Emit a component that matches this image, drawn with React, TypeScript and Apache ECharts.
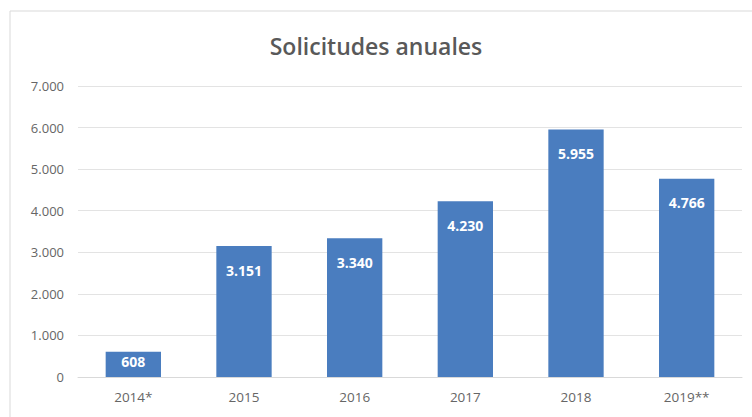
import React, { useEffect, useRef } from "react";
import * as echarts from "echarts";

const categories = ["2014*", "2015", "2016", "2017", "2018", "2019**"];
const values = [608, 3151, 3340, 4230, 5955, 4766];
const yTicks = [0, 1000, 2000, 3000, 4000, 5000, 6000, 7000];
const titleText = "Solicitudes anuales";

const fmt = (v: number) => String(v).replace(/\B(?=(\d{3})+(?!\d))/g, ".");

export default function App() {
  const ref = useRef<HTMLDivElement>(null);
  useEffect(() => {
    if (!ref.current) return;
    const chart = echarts.init(ref.current, null, { renderer: "svg" });
    chart.setOption({
      animation: false,
      backgroundColor: "#ffffff",
      title: {
        text: titleText,
        left: "center",
        top: 29,
        textStyle: { fontFamily: "Open Sans", fontSize: 23, fontWeight: 600, color: "#595959" },
      },
      graphic: [
        {
          type: "rect",
          shape: { x: 10, y: 11, width: 760, height: 420 },
          style: { fill: "none", stroke: "#d9d9d9", lineWidth: 1 },
          silent: true,
        },
      ],
      grid: { left: 78, right: 10, top: 86, bottom: 40 },
      xAxis: {
        type: "category",
        data: categories,
        axisTick: { show: false },
        axisLine: { lineStyle: { color: "#d9d9d9" } },
        axisLabel: { color: "#666666", fontFamily: "Open Sans", fontSize: 13.5, margin: 13 },
      },
      yAxis: {
        type: "value",
        min: yTicks[0],
        max: yTicks[yTicks.length - 1],
        interval: 1000,
        axisLine: { show: false },
        axisTick: { show: false },
        splitLine: { lineStyle: { color: "#e3e3e3" } },
        axisLabel: {
          color: "#666666",
          fontFamily: "Open Sans",
          fontSize: 13,
          margin: 14,
          formatter: (v: number) => fmt(v),
        },
      },
      series: [
        {
          type: "bar",
          data: values.map((v, i) => (i === 0 ? { value: v, label: { distance: 3 } } : v)),
          barWidth: "50%",
          itemStyle: { color: "#4a7dbf" },
          label: {
            show: true,
            position: "insideTop",
            distance: 17,
            color: "#ffffff",
            fontFamily: "Open Sans",
            fontWeight: "bold",
            fontSize: 14,
            formatter: (p: any) => fmt(p.value),
          },
        },
      ],
    });
    return () => chart.dispose();
  }, []);
  return (
    <div
      ref={ref}
      style={{ position: "fixed", left: 0, top: 0, width: 752, height: 417 }}
    />
  );
}
